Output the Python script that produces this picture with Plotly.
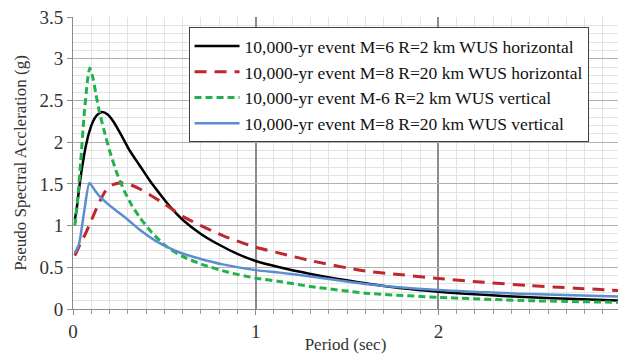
import plotly.graph_objects as go

# Period (sec) and PSA (g) values
x_black = [0.01, 0.02, 0.03, 0.04, 0.05, 0.07, 0.09, 0.11, 0.13, 0.16, 0.19, 0.22, 0.25, 0.28, 0.31, 0.365, 0.42, 0.475, 0.53, 0.60, 0.70, 0.80, 0.90, 1.00, 1.13, 1.30, 1.45, 1.60, 1.80, 2.00, 2.25, 2.50, 2.75, 3.00]
y_black = [1.07, 1.20, 1.38, 1.55, 1.70, 1.95, 2.13, 2.25, 2.32, 2.36, 2.33, 2.25, 2.14, 2.02, 1.90, 1.72, 1.54, 1.38, 1.23, 1.07, 0.90, 0.77, 0.66, 0.575, 0.50, 0.42, 0.36, 0.31, 0.25, 0.208, 0.17, 0.14, 0.12, 0.10]

x_red = [0.01, 0.04, 0.07, 0.10, 0.14, 0.18, 0.22, 0.26, 0.30, 0.365, 0.42, 0.50, 0.60, 0.70, 0.82, 1.00, 1.13, 1.30, 1.60, 1.80, 2.00, 2.25, 2.50, 2.75, 3.00]
y_red = [0.64, 0.78, 0.91, 1.06, 1.26, 1.42, 1.49, 1.51, 1.50, 1.44, 1.37, 1.26, 1.11, 1.00, 0.88, 0.74, 0.67, 0.58, 0.456, 0.41, 0.365, 0.32, 0.28, 0.25, 0.22]

x_green = [0.01, 0.025, 0.042, 0.06, 0.08, 0.092, 0.11, 0.125, 0.142, 0.17, 0.20, 0.24, 0.28, 0.32, 0.365, 0.43, 0.51, 0.60, 0.70, 0.85, 1.00, 1.13, 1.30, 1.60, 2.00, 2.50, 3.00]
y_green = [1.00, 1.30, 1.76, 2.30, 2.75, 2.89, 2.76, 2.58, 2.39, 2.14, 1.90, 1.63, 1.42, 1.25, 1.10, 0.92, 0.75, 0.63, 0.54, 0.44, 0.37, 0.33, 0.27, 0.19, 0.14, 0.10, 0.08]

x_blue = [0.01, 0.033, 0.06, 0.09, 0.12, 0.146, 0.19, 0.23, 0.30, 0.365, 0.45, 0.51, 0.58, 0.70, 0.82, 1.00, 1.13, 1.30, 1.60, 2.00, 2.50, 3.00]
y_blue = [0.67, 0.78, 1.15, 1.51, 1.42, 1.35, 1.26, 1.19, 1.07, 0.95, 0.82, 0.75, 0.68, 0.60, 0.535, 0.466, 0.436, 0.39, 0.30, 0.228, 0.18, 0.149]

names = [
    "10,000-yr event M=6 R=2 km WUS horizontal",
    "10,000-yr event M=8 R=20 km WUS horizontal",
    "10,000-yr event M-6 R=2 km WUS vertical",
    "10,000-yr event M=8 R=20 km WUS vertical",
]

FONT = "Times New Roman"

fig = go.Figure()
fig.add_trace(go.Scatter(x=x_black, y=y_black, name=names[0], mode="lines",
                         line=dict(color="#000000", width=2.5, shape="spline", smoothing=0.8)))
fig.add_trace(go.Scatter(x=x_red, y=y_red, name=names[1], mode="lines",
                         line=dict(color="#c0262d", width=3, dash="12px,8px", shape="spline", smoothing=0.8)))
fig.add_trace(go.Scatter(x=x_green, y=y_green, name=names[2], mode="lines",
                         line=dict(color="#22b14c", width=3, dash="7px,4px", shape="spline", smoothing=0.6)))
fig.add_trace(go.Scatter(x=x_blue, y=y_blue, name=names[3], mode="lines",
                         line=dict(color="#5b8ed0", width=2.5, shape="spline", smoothing=0.6)))

fig.update_layout(
    width=618, height=354,
    margin=dict(l=73, r=0, t=17, b=40),
    paper_bgcolor="white", plot_bgcolor="white",
    font=dict(family=FONT, size=17, color="#333333"),
    showlegend=True,
    legend=dict(x=0.212, y=0.965, xanchor="left", yanchor="top",
                bgcolor="white", bordercolor="#404040", borderwidth=1,
                font=dict(family=FONT, size=17.5, color="#111111"),
                tracegroupgap=0, itemwidth=45),
    xaxis=dict(range=[0, 2.983], dtick=1, tick0=0,
               showgrid=True, gridcolor="#8c8c8c", gridwidth=2,
               showline=True, linecolor="#8c8c8c", linewidth=1,
               ticks="outside", ticklen=5, tickcolor="#8c8c8c",
               zeroline=False,
               minor=dict(dtick=0.1, showgrid=True, gridcolor="#e3e3e3", gridwidth=1,
                          ticks="outside", ticklen=4, tickcolor="#9a9a9a"),
               title=dict(text="Period (sec)", font=dict(family=FONT, size=17, color="#333333"), standoff=0),
               tickfont=dict(family=FONT, size=19, color="#333333")),
    yaxis=dict(range=[0, 3.5], dtick=0.5, tick0=0,
               showgrid=True, gridcolor="#b0b0b0", gridwidth=1,
               showline=True, linecolor="#8c8c8c", linewidth=1,
               ticks="outside", ticklen=5, tickcolor="#8c8c8c",
               zeroline=False,
               minor=dict(dtick=0.1, showgrid=True, gridcolor="#e3e3e3", gridwidth=1),
               title=dict(text="Pseudo Spectral Accleration (g)", font=dict(family=FONT, size=17, color="#333333"), standoff=8),
               tickfont=dict(family=FONT, size=19, color="#333333")),
)

fig.write_html("out.html")
